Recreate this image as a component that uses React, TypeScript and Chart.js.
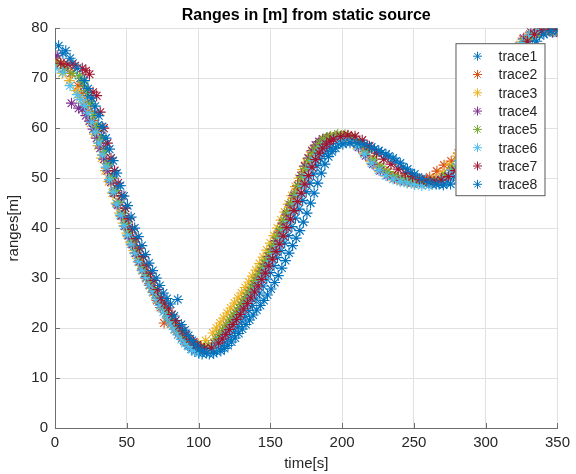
import React, { useEffect, useRef } from 'react';
import { Chart, registerables } from 'chart.js';

Chart.register(...registerables);

const TITLE = 'Ranges in [m] from static source';
const X_LABEL = 'time[s]';
const Y_LABEL = 'ranges[m]';

const X_TICKS = [0, 50, 100, 150, 200, 250, 300, 350];
const Y_TICKS = [0, 10, 20, 30, 40, 50, 60, 70, 80];

// sample times (s): denser where the range changes fast
const TIMES = [
  0, 5, 10, 15,
  17.5, 20, 22.5, 25, 27.5, 30, 32.5, 35, 37.5, 40,
  42.5, 45, 47.5, 50, 52.5, 55, 57.5, 60, 62.5, 65,
  67.5, 70, 72.5, 75, 77.5, 80, 82.5, 85, 87.5, 90,
  92.5, 95, 97.5, 100,
  105,
  110, 112.5, 115, 117.5, 120, 122.5, 125, 127.5, 130, 132.5,
  135, 137.5, 140, 142.5, 145, 147.5, 150, 152.5, 155, 157.5,
  160, 162.5, 165, 167.5, 170, 172.5, 175, 177.5, 180, 182.5,
  185, 187.5, 190,
  195, 200, 205, 210, 215, 220, 225, 230, 235, 240,
  245, 250, 255, 260, 265, 270, 275, 280, 285, 290,
  295, 300, 305, 310, 315, 320, 325, 330, 335, 340,
  345, 350,
];

// start-time offset of each trace (s)
const TRACE_TIME_SHIFT = [2.5, 1, 0, 1.5, 2, 0.5, 4, 5.5];

const TRACE1 = [
  76.5, 75.5, 73, 70,
  68.4, 66.5, 64.9, 63, 60.6, 58.5, 55.9, 53, 50.4, 48,
  45.1, 42.5, 40.3, 38, 36.4, 34.5, 32.6, 31, 29.6, 28,
  26.8, 25.5, 24.2, 23, 21.7, 20.5, 19.4, 18.5, 17.4, 16.5,
  15.8, 15.3, 15, 14.8,
  14.8,
  15.3, 16, 16.8, 17.7, 18.5, 19.4, 20.3, 21.4, 22.3, 23.5,
  24.5, 25.8, 27, 28.4, 29.8, 31.1, 32.5, 34.1, 35.5, 37,
  38.5, 40.3, 42, 43.8, 45.5, 47.3, 49, 50.8, 52.5, 53.9,
  55, 55.8, 56.3,
  56.9, 57.2, 57.3, 57, 56.3, 55.8, 55.1, 54.4, 53.4, 52.2,
  51, 50, 49.3, 48.8, 48.8, 49.2, 50.3, 51.8, 53.8, 56,
  58.5, 61.5, 64.5, 67.5, 70.5, 73.5, 75.8, 77.6, 78.6, 79.1,
  79.3, 79.1,
];
const TRACE2 = [
  73.5, 72.8, 71, 68.5,
  66.9, 65, 63.4, 61.5, 59.4, 57, 54.6, 52, 49.6, 47,
  44.8, 42.5, 40.4, 38.5, 36.8, 35, 33.2, 31.5, 29.9, 28.5,
  27.1, 25.5, 24.1, 21, 22, 20.8, 19.7, 18.8, 18, 17.2,
  16.6, 16.2, 15.8, 15.6,
  15.8,
  17, 17.9, 18.8, 19.9, 21, 22, 23, 24.1, 25.2, 26.3,
  27.5, 28.7, 30, 31.4, 32.8, 34.3, 35.8, 37.4, 39, 40.8,
  42.5, 44.2, 46, 47.8, 49.5, 51.3, 53, 54.5, 55.8, 56.6,
  57.3, 57.7, 58,
  58.4, 58.5, 58.1, 57, 55.3, 53.6, 52.2, 51.2, 50.4, 49.8,
  49.4, 49.3, 49.5, 50.2, 51.4, 52.6, 53.4, 55, 57.2, 59.6,
  62.3, 65.2, 68.2, 71.2, 74, 76.2, 77.8, 78.8, 79.4, 79.7,
  79.6, 79.5,
];
const TRACE3 = [
  72.5, 71, 69.5, 67.5,
  66.1, 64.5, 62.9, 61, 58.8, 56.5, 54, 51.5, 49.3, 47,
  45, 43, 41, 39, 37.2, 35.5, 34, 32.5, 31, 29.5,
  28, 26.5, 25.2, 24, 22.9, 21.8, 20.8, 19.8, 19, 18.2,
  17.5, 17, 16.8, 16.8,
  17.5,
  19, 20, 21, 22, 23, 24, 25, 26, 27, 28.1,
  29.2, 30.4, 31.6, 32.9, 34.2, 35.6, 37, 38.5, 40, 41.6,
  43.2, 44.8, 46.5, 48.3, 50, 51.7, 53.2, 54.6, 55.8, 56.6,
  57.2, 57.7, 58,
  58.3, 58.3, 57.8, 56.6, 55, 53.4, 52, 51, 50.2, 49.6,
  49.2, 49, 49, 49.2, 49.8, 51, 52.6, 54.4, 56.5, 59,
  61.8, 64.8, 67.8, 70.8, 73.6, 75.8, 77.4, 78.5, 79.2, 79.5,
  79.5, 79.3,
];
const TRACE4 = [
  74.5, 72, 65, 64,
  63.8, 62.5, 61.4, 59.8, 58, 56, 53.8, 51.5, 49.2, 47,
  44.6, 42.5, 40.5, 38.5, 36.7, 35, 33.4, 31.8, 30.3, 28.8,
  27.4, 26, 24.7, 23.5, 22.3, 21.2, 20.1, 19.2, 18.3, 17.6,
  16.9, 16.3, 15.9, 15.6,
  15.8,
  16.8, 17.6, 18.5, 19.5, 20.6, 21.7, 22.8, 23.9, 25, 26.2,
  27.4, 28.7, 30, 31.4, 32.8, 34.3, 35.8, 37.5, 39.2, 41,
  42.8, 44.6, 46.5, 48.5, 50.5, 52.4, 54, 55.5, 56.6, 57.3,
  57.8, 58, 58.2,
  58.4, 58.3, 57.6, 56.2, 54.5, 52.8, 51.5, 50.6, 50, 49.6,
  49.3, 49.1, 49, 49, 49.3, 50.2, 51.6, 53.4, 55.6, 58.2,
  61, 64, 67.2, 70.4, 73.4, 76, 78, 79.2, 79.6, 79.4,
  79.2, 79,
];
const TRACE5 = [
  73, 72, 71, 70.5,
  69.2, 67.5, 65, 62.5, 60.2, 57.8, 55.3, 52.8, 50.1, 47.5,
  45.2, 43, 41, 39.2, 37.4, 35.6, 33.9, 32.2, 30.7, 29.2,
  27.7, 26.2, 24.9, 23.6, 22.4, 21.2, 20.2, 19.2, 18.4, 17.6,
  17, 16.4, 16.1, 16,
  16.5,
  17.8, 18.7, 19.6, 20.6, 21.6, 22.6, 23.6, 24.7, 25.8, 27,
  28.2, 29.5, 30.8, 32.2, 33.6, 35.1, 36.6, 38.2, 39.8, 41.5,
  43.2, 45, 46.8, 48.5, 50.2, 51.9, 53.5, 54.9, 56, 56.9,
  57.6, 58.1, 58.4,
  58.8, 58.7, 58.2, 57, 55.4, 53.8, 52.4, 51.3, 50.5, 49.9,
  49.5, 49.2, 49.1, 49.2, 49.6, 50.5, 52, 53.8, 56, 58.5,
  61.3, 64.3, 67.4, 70.4, 73.2, 75.6, 77.4, 78.6, 79.3, 79.6,
  79.5, 79.3,
];
const TRACE6 = [
  72, 71.2, 68.5, 66.7,
  65.7, 64.5, 63, 61.2, 59.2, 57, 54.6, 52.2, 49.7, 47.2,
  44.8, 42.6, 40.5, 38.6, 36.8, 35, 33.3, 31.6, 30.1, 28.6,
  27.2, 25.8, 24.5, 23.2, 22, 20.8, 19.7, 18.6, 17.7, 16.9,
  16.3, 15.7, 15.3, 15,
  15.2,
  16, 16.6, 17.4, 18.3, 19.2, 20.2, 21.2, 22.2, 23.3, 24.4,
  25.6, 26.8, 28, 29.3, 30.6, 32, 33.4, 34.9, 36.4, 38,
  39.6, 41.3, 43, 44.8, 46.6, 48.4, 50.2, 52, 53.5, 54.8,
  55.8, 56.5, 57,
  57.6, 57.8, 57.5, 56.4, 54.8, 53, 51.6, 50.5, 49.8, 49.3,
  49, 48.7, 48.5, 48.5, 48.8, 49.6, 51, 52.8, 55, 57.6,
  60.4, 63.4, 66.5, 69.6, 72.6, 75.2, 77.2, 78.6, 79.4, 79.6,
  79.4, 79.2,
];
const TRACE7 = [
  73, 72.8, 72.5, 72,
  71.5, 70.8, 67.2, 66.5, 63.2, 60, 57, 54, 51.5, 49,
  46.5, 44, 41.9, 39.8, 37.9, 36, 34.3, 32.6, 31, 29.5,
  27.7, 26, 25, 24, 22.7, 21.5, 20.4, 19.4, 18.6, 17.8,
  17.2, 16.6, 16.2, 15.9,
  16,
  17, 17.8, 18.7, 19.7, 20.7, 21.7, 22.7, 23.8, 24.9, 26,
  27.2, 28.4, 29.7, 31, 32.4, 33.8, 35.3, 36.8, 38.4, 40.1,
  41.8, 43.5, 45.3, 47, 48.8, 50.5, 52.2, 53.7, 55, 56,
  56.8, 57.4, 57.8,
  58.3, 58.6, 58.4, 57.6, 56.4, 55, 53.8, 52.8, 51.8, 51,
  50.3, 49.8, 49.5, 49.4, 49.6, 50.3, 51.5, 53.2, 55.3, 57.8,
  60.6, 63.6, 66.7, 69.8, 72.8, 75.4, 77.4, 78.8, 79.5, 79.8,
  79.8, 79.6,
];
const TRACE8 = [
  75, 74, 72, 69.5,
  67.9, 66, 64.4, 62.5, 60.3, 58, 55.8, 53.5, 51, 48.5,
  46.4, 44.5, 42.2, 40, 38.3, 36.5, 34.7, 33, 31.5, 30,
  28.5, 27, 25.9, 24.8, 22.4, 25.7, 20.7, 19.6, 18.5, 17.5,
  16.6, 15.8, 15.3, 15,
  14.9,
  15.4, 15.9, 16.5, 17.2, 18, 18.9, 19.8, 20.7, 21.6, 22.6,
  23.6, 24.5, 25.5, 26.6, 27.8, 29.1, 30.5, 32, 33.5, 35,
  36.5, 38, 39.5, 41.2, 43, 45, 47, 49, 51, 52.8,
  54.3, 55.3, 56,
  56.8, 57.1, 57, 56.7, 56.2, 55.5, 54.8, 54, 53, 51.8,
  50.8, 49.9, 49.2, 48.8, 48.6, 48.8, 49.6, 51.2, 53.2, 55.6,
  58.2, 61, 64, 67, 70, 72.8, 75.4, 77.4, 78.8, 79.5,
  79.6, 79.4,
];

const TRACE_NAMES = ['trace1', 'trace2', 'trace3', 'trace4', 'trace5', 'trace6', 'trace7', 'trace8'];
const TRACE_VALUES = [TRACE1, TRACE2, TRACE3, TRACE4, TRACE5, TRACE6, TRACE7, TRACE8];
const TRACE_COLORS = ['#0072BD', '#D95319', '#EDB120', '#7E2F8E', '#77AC30', '#4DBEEE', '#A2142F', '#0072BD'];

const FONT = "'Liberation Sans', Arial, Helvetica, sans-serif";
const TEXT = '#262626';
const AXIS = '#6e6e6e';
const GRID = '#e1e1e1';
const STAR_R = 5.5;

function drawStar(ctx: CanvasRenderingContext2D, x: number, y: number, r: number, color: string) {
  const d = r * Math.SQRT1_2;
  ctx.save();
  ctx.strokeStyle = color;
  ctx.lineWidth = 1;
  ctx.beginPath();
  ctx.moveTo(x - r, y); ctx.lineTo(x + r, y);
  ctx.moveTo(x, y - r); ctx.lineTo(x, y + r);
  ctx.moveTo(x - d, y - d); ctx.lineTo(x + d, y + d);
  ctx.moveTo(x - d, y + d); ctx.lineTo(x + d, y - d);
  ctx.stroke();
  ctx.restore();
}

const inwardTicks = {
  id: 'inwardTicks',
  beforeDatasetsDraw(chart: any) {
    const { ctx, chartArea, scales } = chart;
    ctx.save();
    ctx.strokeStyle = AXIS;
    ctx.lineWidth = 1;
    ctx.beginPath();
    for (const v of X_TICKS) {
      const px = Math.round(scales.x.getPixelForValue(v)) + 0.5;
      ctx.moveTo(px, chartArea.bottom);
      ctx.lineTo(px, chartArea.bottom - 5);
    }
    for (const v of Y_TICKS) {
      const py = Math.round(scales.y.getPixelForValue(v)) + 0.5;
      ctx.moveTo(chartArea.left, py);
      ctx.lineTo(chartArea.left + 5, py);
    }
    ctx.stroke();
    ctx.restore();
  },
};

const boxLegend = {
  id: 'boxLegend',
  afterDatasetsDraw(chart: any) {
    const { ctx, chartArea } = chart;
    const x0 = chartArea.right - 102;
    const y0 = chartArea.top + 15;
    const w = 89;
    const h = 152;
    ctx.save();
    ctx.fillStyle = '#ffffff';
    ctx.fillRect(x0, y0, w, h);
    ctx.strokeStyle = '#5a5a5a';
    ctx.lineWidth = 1;
    ctx.strokeRect(x0 + 0.5, y0 + 0.5, w, h);
    ctx.font = `14px ${FONT}`;
    ctx.fillStyle = TEXT;
    ctx.textBaseline = 'middle';
    ctx.textAlign = 'left';
    TRACE_NAMES.forEach((name, i) => {
      const yy = y0 + 13 + i * 18.3;
      drawStar(ctx, x0 + 22, yy, 4.5, TRACE_COLORS[i]);
      ctx.fillText(name, x0 + 43, yy + 1);
    });
    ctx.restore();
  },
};

export default function App() {
  const canvasRef = useRef<HTMLCanvasElement | null>(null);

  useEffect(() => {
    const canvas = canvasRef.current;
    if (!canvas) return;
    const datasets = TRACE_NAMES.map((name, k) => ({
      label: name,
      data: TIMES.map((t, i) => ({ x: t + TRACE_TIME_SHIFT[k], y: TRACE_VALUES[k][i] })),
      showLine: false,
      pointStyle: 'star' as const,
      pointRadius: STAR_R,
      pointHoverRadius: STAR_R,
      pointBorderWidth: 1.1,
      borderColor: TRACE_COLORS[k],
      backgroundColor: TRACE_COLORS[k],
      order: TRACE_NAMES.length - 1 - k,
    }));

    const tickFont = { family: FONT, size: 15 };

    const chart = new Chart(canvas, {
      type: 'scatter',
      data: { datasets },
      options: {
        responsive: false,
        animation: false,
        devicePixelRatio: 1,
        events: [],
        layout: { padding: { left: 0, right: 16, top: 0, bottom: 0 } },
        plugins: {
          legend: { display: false },
          tooltip: { enabled: false },
          title: {
            display: true,
            text: TITLE,
            fullSize: false,
            color: '#000000',
            font: { family: FONT, size: 16, weight: 'bold' },
            padding: { top: 6, bottom: 3 },
          },
        },
        scales: {
          x: {
            type: 'linear',
            min: 0,
            max: 350,
            afterBuildTicks: (s: any) => { s.ticks = X_TICKS.map((v) => ({ value: v })); },
            afterFit: (s: any) => { s.height = 46; },
            grid: { color: GRID, drawTicks: false, lineWidth: 1 },
            border: { display: true, color: AXIS, width: 1 },
            ticks: { color: TEXT, font: tickFont, padding: 6, maxRotation: 0, autoSkip: false },
            title: { display: true, text: X_LABEL, color: TEXT, font: tickFont, padding: { top: 0, bottom: 1 } },
          },
          y: {
            type: 'linear',
            min: 0,
            max: 80,
            afterBuildTicks: (s: any) => { s.ticks = Y_TICKS.map((v) => ({ value: v })); },
            afterFit: (s: any) => { s.width = 55; },
            grid: { color: GRID, drawTicks: false, lineWidth: 1 },
            border: { display: true, color: AXIS, width: 1 },
            ticks: { color: TEXT, font: tickFont, padding: 7, autoSkip: false },
            title: { display: true, text: Y_LABEL, color: TEXT, font: tickFont, padding: { top: 5, bottom: 0 } },
          },
        },
      },
      plugins: [inwardTicks, boxLegend],
    } as any);

    return () => chart.destroy();
  }, []);

  return (
    <div style={{ position: 'absolute', left: 0, top: 0, width: 576, height: 474, background: '#ffffff' }}>
      <canvas ref={canvasRef} width={576} height={474} style={{ display: 'block', width: 576, height: 474 }} />
    </div>
  );
}
